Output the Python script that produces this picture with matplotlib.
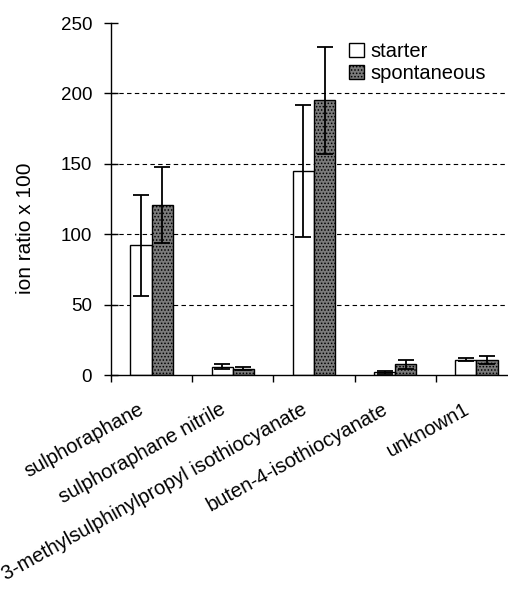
import numpy as np
import matplotlib
matplotlib.use('Agg')
import matplotlib.pyplot as plt
from matplotlib.transforms import ScaledTranslation

plt.rcParams['font.family'] = ['Liberation Sans', 'DejaVu Sans']
plt.rcParams['hatch.color'] = '#2e2e2e'
plt.rcParams['hatch.linewidth'] = 0.7

# data
compounds = ['sulphoraphane', 'sulphoraphane nitrile',
             '3-methylsulphinylpropyl isothiocyanate',
             'buten-4-isothiocyanate', 'unknown1']
starter = [92, 6, 145, 2, 11]
starter_err = [36, 1.5, 47, 1, 1]
spontaneous = [121, 4.5, 195, 7.5, 10.5]
spontaneous_err = [27, 1, 38, 3, 3]
y_ticks = [0, 50, 100, 150, 200, 250]

fig = plt.figure(figsize=(5.08, 5.90), dpi=100)
ax = fig.add_axes([111/508, 1 - 375/590, 406/508, 352/590])

x = np.arange(len(compounds)) + 0.5
w = 0.26
ax.bar(x - w/2, starter, w, color='white', edgecolor='black', linewidth=1,
       label='starter', zorder=2)
ax.bar(x + w/2, spontaneous, w, color='#7a7a7a', edgecolor='black', linewidth=1,
       hatch='.....', label='spontaneous', zorder=2)
ax.errorbar(x - w/2, starter, yerr=starter_err, fmt='none', ecolor='black',
            elinewidth=1.3, capsize=6, capthick=1.3, zorder=3)
ax.errorbar(x + w/2, spontaneous, yerr=spontaneous_err, fmt='none', ecolor='black',
            elinewidth=1.3, capsize=6, capthick=1.3, zorder=3)

ax.set_xlim(0, len(compounds))
ax.set_ylim(0, 250)
ax.set_yticks(y_ticks)
ax.tick_params(axis='y', direction='inout', length=10, width=1, labelsize=13.5, pad=8.5)
ax.set_xticks(np.arange(len(compounds) + 1))
ax.set_xticklabels([])
ax.tick_params(axis='x', direction='out', length=5, width=1)

# dashed grid, no line at the top
for yv in y_ticks[1:-1]:
    ax.axhline(yv, color='black', linestyle=(0, (4, 3)), linewidth=0.8, zorder=1)

for s in ['top', 'right']:
    ax.spines[s].set_visible(False)
ax.spines['left'].set_linewidth(1)
ax.spines['bottom'].set_linewidth(1)

ax.set_ylabel('ion ratio x 100', fontsize=15)
ax.yaxis.set_label_coords(-0.187, 0.418)

# rotated category labels, right end just left of the group centre
off = ScaledTranslation(-6/100, -38/100, fig.dpi_scale_trans)
for xi, name in zip(x, compounds):
    ax.text(xi, 0, name, transform=ax.get_xaxis_transform() + off,
            rotation=29, rotation_mode='anchor', ha='right', va='baseline',
            fontsize=14.5)

ax.legend(loc='upper left', bbox_to_anchor=(349/508, 1 - 42/590),
          bbox_transform=fig.transFigure, frameon=False, fontsize=14.5,
          handlelength=0.75, handleheight=0.75, handletextpad=0.3,
          labelspacing=0.15, borderpad=0, borderaxespad=0)

plt.savefig('out.png', dpi=100)
